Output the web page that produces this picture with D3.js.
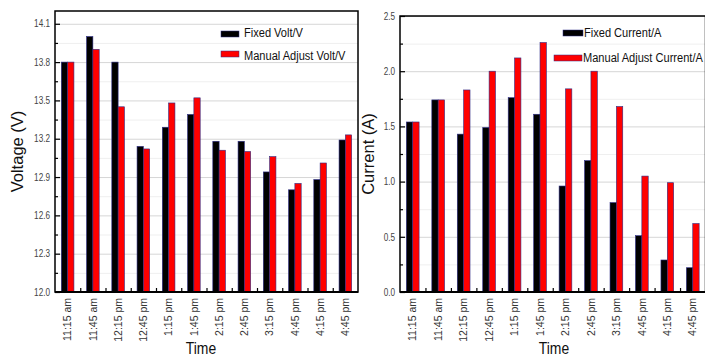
<!DOCTYPE html>
<html>
<head>
<meta charset="utf-8">
<script src="https://cdn.jsdelivr.net/npm/d3@7"></script>
<style>
  body { margin: 0; background: #fff; }
  svg { display: block; font-family: "Liberation Sans", Arial, sans-serif; }
</style>
</head>
<body>
<div id="chart"></div>
<script>
// time labels (the 10th one reads "4:45 pm" in the original figure)
const times = ["11:15 am", "11:45 am", "12:15 pm", "12:45 pm", "1:15 pm", "1:45 pm",
               "2:15 pm", "2:45 pm", "3:15 pm", "4:45 pm", "4:15 pm", "4:45 pm"];

// voltage panel
const fixedVolt  = [13.80, 14.00, 13.80, 13.14, 13.29, 13.39, 13.18, 13.18, 12.94, 12.80, 12.88, 13.19];
const manualVolt = [13.80, 13.90, 13.45, 13.12, 13.48, 13.52, 13.11, 13.10, 13.06, 12.85, 13.01, 13.23];
const voltTicks  = [12.0, 12.3, 12.6, 12.9, 13.2, 13.5, 13.8, 14.1];
const voltMinor  = [12.15, 12.45, 12.75, 13.05, 13.35, 13.65, 13.95];

// current panel
const fixedCurrent  = [1.54, 1.74, 1.43, 1.49, 1.76, 1.61, 0.96, 1.19, 0.81, 0.51, 0.29, 0.22];
const manualCurrent = [1.54, 1.74, 1.83, 2.00, 2.12, 2.26, 1.84, 2.00, 1.68, 1.05, 0.99, 0.62];
const currentTicks  = [0.0, 0.5, 1.0, 1.5, 2.0, 2.5];
const currentMinor  = [0.25, 0.75, 1.25, 1.75, 2.25];

const W = 705, H = 356;
const SX = 0.82; // horizontal squeeze of the scanned figure text

const svg = d3.select("#chart").append("svg")
    .attr("width", W)
    .attr("height", H);

svg.append("rect").attr("width", W).attr("height", H).attr("fill", "#fff");

function squeezedText(g, x, y, txt, size, anchor) {
    return g.append("text")
        .attr("transform", "translate(" + x + "," + y + ") scale(" + SX + ",1)")
        .attr("text-anchor", anchor || "start")
        .style("font-size", size + "px")
        .attr("fill", "#111")
        .text(txt);
}

function drawPanel(p) {
    const g = svg.append("g");

    const x = d3.scaleBand()
        .domain(d3.range(times.length))
        .range([p.left, p.right]);

    const xi = d3.scaleLinear()
        .domain([0, times.length])
        .range([p.left, p.right]);

    const y = d3.scaleLinear()
        .domain(p.domain)
        .range([p.bottom, p.top]);

    const inner = d3.scaleBand()
        .domain(["fixed", "manual"])
        .range([x.bandwidth() * 0.25, x.bandwidth() * 0.75]);

    // grid lines
    g.append("g")
        .attr("transform", "translate(" + p.left + ",0)")
        .call(d3.axisLeft(y).tickValues(p.minor).tickSize(-(p.right - p.left)).tickFormat(""))
        .call(s => s.select(".domain").remove())
        .selectAll("line").attr("stroke", "#efefef");
    g.append("g")
        .attr("transform", "translate(" + p.left + ",0)")
        .call(d3.axisLeft(y).tickValues(p.major).tickSize(-(p.right - p.left)).tickFormat(""))
        .call(s => s.select(".domain").remove())
        .selectAll("line").attr("stroke", "#d6d6d6");

    // bars
    const rows = times.map((t, i) => ({i: i, fixed: p.fixed[i], manual: p.manual[i]}));
    const groups = g.selectAll(".grp")
        .data(rows)
        .join("g")
        .attr("class", "grp")
        .attr("transform", d => "translate(" + x(d.i) + ",0)");
    groups.selectAll("rect")
        .data(d => ["fixed", "manual"].map(k => ({k: k, v: d[k]})))
        .join("rect")
        .attr("x", d => inner(d.k))
        .attr("width", inner.bandwidth())
        .attr("y", d => y(d.v))
        .attr("height", d => y(p.domain[0]) - y(d.v))
        .attr("fill", d => d.k === "fixed" ? "#000" : "#ff0000")
        .attr("stroke", "#2c2c86")
        .attr("stroke-width", 0.6);

    // y axis, ticks pointing inward
    const yAx = g.append("g")
        .attr("transform", "translate(" + p.left + ",0)")
        .call(d3.axisLeft(y).tickValues(p.major).tickSize(-5).tickPadding(5).tickFormat(d3.format(".1f")));
    yAx.select(".domain").remove();
    yAx.selectAll("line").attr("stroke", "#000").attr("stroke-width", 1.2);
    yAx.selectAll("text")
        .attr("transform", "scale(" + SX + ",1)")
        .attr("x", -5 / SX)
        .style("font-size", "10px")
        .attr("fill", "#444");

    g.append("g")
        .attr("transform", "translate(" + p.left + ",0)")
        .call(d3.axisLeft(y).tickValues(p.minor).tickSize(-3).tickFormat(""))
        .call(s => s.select(".domain").remove())
        .selectAll("line").attr("stroke", "#000").attr("stroke-width", 1.2);

    // x axis: labels at band centres, ticks at band edges
    const xAx = g.append("g")
        .attr("transform", "translate(0," + p.bottom + ")")
        .call(d3.axisBottom(x).tickSize(0).tickFormat(i => times[i]));
    xAx.select(".domain").remove();
    xAx.selectAll("text")
        .attr("transform", "rotate(-90)")
        .attr("x", -6)
        .attr("y", 0)
        .attr("dy", "0.35em")
        .style("text-anchor", "end")
        .style("font-size", "10.5px")
        .attr("fill", "#333");

    g.append("g")
        .attr("transform", "translate(0," + p.bottom + ")")
        .call(d3.axisBottom(xi).tickValues(d3.range(1, times.length)).tickSize(-4).tickFormat(""))
        .call(s => s.select(".domain").remove())
        .selectAll("line").attr("stroke", "#000").attr("stroke-width", 1.2);

    // frame
    g.append("rect")
        .attr("x", p.left)
        .attr("y", p.top)
        .attr("width", p.right - p.left)
        .attr("height", p.bottom - p.top)
        .attr("fill", "none")
        .attr("stroke", "#000")
        .attr("stroke-width", 1.5);
    g.append("line")
        .attr("x1", p.left).attr("x2", p.right)
        .attr("y1", p.bottom).attr("y2", p.bottom)
        .attr("stroke", "#000")
        .attr("stroke-width", 2.2);

    // axis titles
    g.append("text")
        .attr("transform", "translate(" + p.ylabelX + "," + ((p.top + p.bottom) / 2) + ") rotate(-90)")
        .attr("text-anchor", "middle")
        .style("font-size", "16.5px")
        .attr("fill", "#111")
        .text(p.ylabel);
    squeezedText(g, p.timeX, 354, "Time", 17, "middle");

    // legend
    p.legend.forEach(l => {
        g.append("rect")
            .attr("x", l.bx).attr("y", l.by)
            .attr("width", l.bw).attr("height", 6)
            .attr("fill", l.color)
            .attr("stroke", "#2c2c86")
            .attr("stroke-width", 0.5);
        squeezedText(g, l.tx, l.ty, l.label, 13.5, "start");
    });
}

drawPanel({
    left: 55, right: 358, top: 11, bottom: 292,
    domain: [12.0, 14.2],
    major: voltTicks, minor: voltMinor,
    fixed: fixedVolt, manual: manualVolt,
    ylabel: "Voltage (V)", ylabelX: 23, timeX: 201,
    legend: [
        {label: "Fixed Volt/V", color: "#000", bx: 221, by: 31, bw: 18, tx: 244, ty: 37},
        {label: "Manual Adjust Volt/V", color: "#ff0000", bx: 221, by: 51, bw: 18, tx: 244, ty: 60}
    ]
});

drawPanel({
    left: 400, right: 705.5, top: 16, bottom: 292,
    domain: [0, 2.5],
    major: currentTicks, minor: currentMinor,
    fixed: fixedCurrent, manual: manualCurrent,
    ylabel: "Current (A)", ylabelX: 374, timeX: 554,
    legend: [
        {label: "Fixed Current/A", color: "#000", bx: 563, by: 30, bw: 20, tx: 584, ty: 37},
        {label: "Manual Adjust Current/A", color: "#ff0000", bx: 554, by: 55, bw: 28, tx: 583, ty: 62}
    ]
});
</script>
</body>
</html>
